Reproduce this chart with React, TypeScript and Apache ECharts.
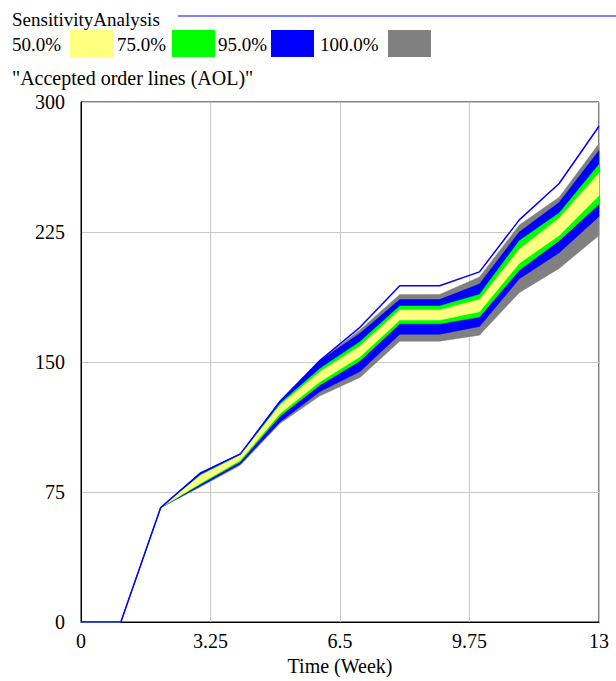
import React, { useEffect, useRef } from "react";
import * as echarts from "echarts";

const weeks = [0, 1, 2, 3, 4, 5, 6, 7, 8, 9, 10, 11, 12, 13];
const currentRun = [0, 0, 66, 86, 97, 127.5, 151, 170, 194, 194, 202, 232, 253, 286];
const band100Low = [0, 0, 66, 78, 90.5, 114.6, 130.5, 141, 162, 162, 165.5, 190, 204, 223];
const band100High = [0, 0, 66, 86, 97, 127.5, 151, 168.5, 189, 189, 199, 229, 245, 276];
const band95Low = [0, 0, 66, 78.5, 91.2, 115.6, 133, 144.5, 166, 166, 170.5, 198, 213, 234];
const band95High = [0, 0, 66, 86, 97, 127, 150.8, 166.5, 186, 186, 195, 225, 242, 272];
const band75Low = [0, 0, 66, 79.5, 92.5, 118.8, 136.8, 150.6, 172, 172, 176, 203, 220, 241];
const band75High = [0, 0, 66, 85, 96.5, 126.2, 146.3, 161.7, 182.3, 182.3, 189, 220, 236, 264];
const band50Low = [0, 0, 66, 80, 93.3, 120.4, 138.7, 153, 174.2, 174.2, 179, 207, 223, 246];
const band50High = [0, 0, 66, 84.5, 96.2, 125.2, 144.4, 159.2, 180, 180, 186, 215, 233, 259];

const legendLabels = ["50.0%", "75.0%", "95.0%", "100.0%"];
const xTicks = [0, 3.25, 6.5, 9.75, 13];
const yTicks = [0, 75, 150, 225, 300];

const FONT = "'Liberation Serif', 'Times New Roman', serif";
const C_YELLOW = "#ffff80";
const C_GREEN = "#00ff00";
const C_BLUE = "#0000ff";
const C_GRAY = "#808080";

export default function App() {
  const ref = useRef<HTMLDivElement>(null);
  useEffect(() => {
    if (!ref.current) return;
    const chart = echarts.init(ref.current, undefined, { renderer: "svg" });
    const bands = [
      { low: band100Low, high: band100High, color: C_GRAY },
      { low: band95Low, high: band95High, color: C_BLUE },
      { low: band75Low, high: band75High, color: C_GREEN },
      { low: band50Low, high: band50High, color: C_YELLOW },
    ];
    const bandSeries: any[] = bands.map((b, i) => ({
      type: "custom",
      data: [[0, 0]],
      silent: true,
      z: 2 + i,
      renderItem: (_params: any, api: any) => {
        const upper = weeks.map((w, k) => api.coord([w, b.high[k]]));
        const lower = weeks.map((w, k) => api.coord([w, b.low[k]])).reverse();
        return {
          type: "polygon",
          shape: { points: upper.concat(lower) },
          style: { fill: b.color, stroke: b.color, lineWidth: 0.5 },
        };
      },
    }));
    const swatchColors = [C_YELLOW, C_GREEN, C_BLUE, C_GRAY];
    const legendTextX = [12, 117, 218, 320];
    const swatchX = [70, 172, 271, 388];
    const graphic: any[] = [
      {
        type: "text",
        x: 12,
        y: 19,
        style: {
          text: "SensitivityAnalysis",
          font: `19px ${FONT}`,
          fill: "#000",
          verticalAlign: "middle",
        },
      },
      {
        type: "line",
        shape: { x1: 178, y1: 16, x2: 616, y2: 16 },
        style: { stroke: C_BLUE, lineWidth: 1 },
      },
      {
        type: "text",
        x: 12,
        y: 78,
        style: {
          text: '"Accepted order lines (AOL)"',
          font: `20px ${FONT}`,
          fill: "#000",
          verticalAlign: "middle",
        },
      },
    ];
    legendLabels.forEach((t, i) => {
      graphic.push({
        type: "text",
        x: legendTextX[i],
        y: 44,
        style: { text: t, font: `19px ${FONT}`, fill: "#000", verticalAlign: "middle" },
      });
      graphic.push({
        type: "rect",
        shape: { x: swatchX[i], y: 30, width: 43, height: 27 },
        style: { fill: swatchColors[i] },
      });
    });

    chart.setOption({
      animation: false,
      backgroundColor: "#fff",
      grid: {
        left: 81,
        right: 17,
        top: 102,
        bottom: 59,
        outerBoundsMode: "none",
        containLabel: false,
        show: true,
        borderColor: "#000",
        borderWidth: 1,
        backgroundColor: "transparent",
      },
      xAxis: {
        type: "value",
        min: 0,
        max: 13,
        interval: 3.25,
        name: "Time (Week)",
        nameLocation: "middle",
        nameGap: 34,
        nameTextStyle: { fontFamily: FONT, fontSize: 20, color: "#000" },
        axisLine: { show: true, lineStyle: { color: "#000", width: 1 } },
        axisTick: { show: false },
        axisLabel: {
          fontFamily: FONT,
          fontSize: 20,
          color: "#000",
          margin: 9,
          formatter: (v: number) => (xTicks.includes(v) ? String(v) : ""),
        },
        splitLine: { show: true, lineStyle: { color: "#c8c8c8", width: 1 } },
      },
      yAxis: {
        type: "value",
        min: 0,
        max: 300,
        interval: 75,
        axisLine: { show: true, lineStyle: { color: "#000", width: 1 } },
        axisTick: { show: false },
        axisLabel: {
          fontFamily: FONT,
          fontSize: 20,
          color: "#000",
          margin: 16,
          formatter: (v: number) => (yTicks.includes(v) ? String(v) : ""),
        },
        splitLine: { show: true, lineStyle: { color: "#c8c8c8", width: 1 } },
      },
      graphic,
      series: [
        ...bandSeries,
        {
          type: "line",
          data: weeks.map((w, k) => [w, currentRun[k]]),
          symbol: "none",
          lineStyle: { color: C_BLUE, width: 1.5 },
          silent: true,
          z: 10,
        },
      ],
    });
    return () => chart.dispose();
  }, []);
  return (
    <div
      ref={ref}
      style={{ position: "fixed", left: 0, top: 0, width: 616, height: 681, background: "#fff" }}
    />
  );
}
